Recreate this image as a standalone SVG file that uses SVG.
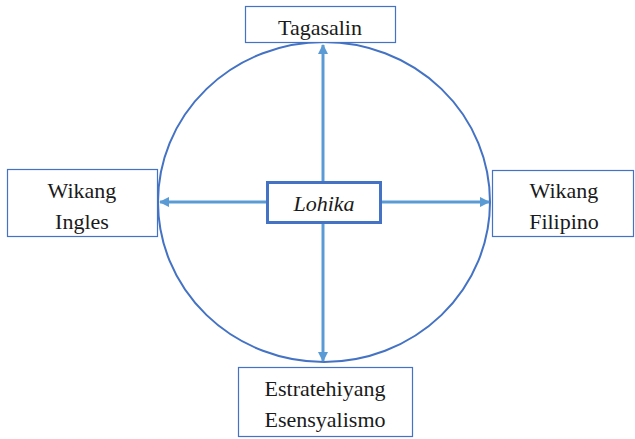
<svg xmlns="http://www.w3.org/2000/svg" width="635" height="439" viewBox="0 0 635 439">
<style>
.box{fill:#fff;stroke:#4472C4;stroke-width:1.2}
text{font-size:22px;fill:#1a1a1a;text-anchor:middle}
.c{stroke:#5B9BD5;stroke-width:3;fill:none;marker-end:url(#ah)}
</style>
<defs>
<marker id="ah" viewBox="0 0 10 10" refX="9" refY="5" markerWidth="3.5" markerHeight="3.5" orient="auto" markerUnits="strokeWidth">
<path d="M0,0 L10,5 L0,10 z" fill="#5B9BD5"/>
</marker>
</defs>
<rect width="635" height="439" fill="#fff"/>
<ellipse id="circle" cx="324" cy="202" rx="166" ry="160" fill="none" stroke="#4472C4" stroke-width="2"/>
<g id="connectors">
<line class="c" x1="323" y1="182" x2="323" y2="45"/>
<line class="c" x1="323" y1="222" x2="323" y2="361"/>
<line class="c" x1="267" y1="202" x2="160" y2="202"/>
<line class="c" x1="380" y1="202" x2="489" y2="202"/>
</g>
<g font-family="Liberation Serif, serif">
<g id="tagasalin"><rect class="box" x="245.5" y="6.5" width="150" height="36"/><text x="320" y="35">Tagasalin</text></g>
<g id="ingles"><rect class="box" x="7.5" y="169.5" width="150" height="67"/><text x="82" y="198">Wikang</text><text x="82" y="229">Ingles</text></g>
<g id="filipino"><rect class="box" x="492.5" y="170.5" width="141" height="66"/><text x="564" y="198">Wikang</text><text x="564" y="229">Filipino</text></g>
<g id="lohika"><rect x="267.5" y="182.5" width="113" height="40" fill="#fff" stroke="#4472C4" stroke-width="3"/><text x="324" y="211" font-style="italic">Lohika</text></g>
<g id="estratehiya"><rect class="box" x="238.5" y="367.5" width="174" height="69"/><text x="325" y="396">Estratehiyang</text><text x="325" y="427">Esensyalismo</text></g>
</g>
</svg>
